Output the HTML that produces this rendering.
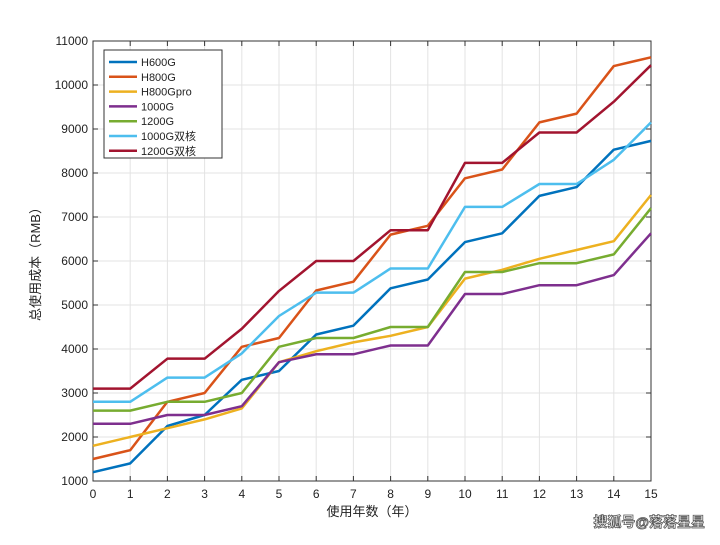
<!DOCTYPE html>
<html><head><meta charset="utf-8"><style>
body{margin:0;background:#fff;}
svg text{font-family:"Liberation Sans","Noto Sans CJK SC",sans-serif;}
</style></head><body>
<svg id="c" width="720" height="540"></svg>
<script>
const years=[0,1,2,3,4,5,6,7,8,9,10,11,12,13,14,15];
const yTicks=[1000,2000,3000,4000,5000,6000,7000,8000,9000,10000,11000];
const seriesNames=["H600G","H800G","H800Gpro","1000G","1200G","1000G双核","1200G双核"];
const colors=["#0072BD","#D95319","#EDB120","#7E2F8E","#77AC30","#4DBEEE","#A2142F"];
const sH600G=[1200,1400,2250,2500,3300,3500,4330,4530,5380,5580,6430,6630,7480,7680,8530,8730];
const sH800G=[1500,1700,2800,3000,4050,4250,5330,5530,6600,6800,7880,8080,9150,9350,10430,10630];
const sH800Gpro=[1800,2000,2200,2400,2650,3700,3950,4150,4300,4500,5600,5800,6050,6250,6450,7500];
const s1000G=[2300,2300,2500,2500,2700,3700,3880,3880,4080,4080,5250,5250,5450,5450,5680,6630];
const s1200G=[2600,2600,2800,2800,3000,4050,4250,4250,4500,4500,5750,5750,5950,5950,6150,7200];
const s1000GD=[2800,2800,3350,3350,3900,4750,5280,5280,5830,5830,7230,7230,7750,7750,8300,9150];
const s1200GD=[3100,3100,3780,3780,4460,5320,6000,6000,6700,6700,8230,8230,8920,8920,9620,10450];
const allSeries=[sH600G,sH800G,sH800Gpro,s1000G,s1200G,s1000GD,s1200GD];
const L=93,R=651,T=41,B=481;
const xs=v=>L+(v-0)/(15-0)*(R-L);
const ys=v=>B-(v-1000)/(11000-1000)*(B-T);
const svg=document.getElementById('c');const NS="http://www.w3.org/2000/svg";
function mk(t,a,p){const e=document.createElementNS(NS,t);for(const k in a)e.setAttribute(k,a[k]);(p||svg).appendChild(e);return e;}
const grid=mk('g',{});


years.forEach(v=>{mk('line',{x1:xs(v),x2:xs(v),y1:T,y2:B,stroke:'#e3e3e3','stroke-width':1},grid);
 const t=mk('text',{x:xs(v),y:B+17,'text-anchor':'middle','font-size':12,fill:'#222'});t.textContent=v;
 
 
 mk('line',{x1:xs(v),x2:xs(v),y1:B,y2:B-5,stroke:'#333'});mk('line',{x1:xs(v),x2:xs(v),y1:T,y2:T+5,stroke:'#333'});});
yTicks.forEach(v=>{mk('line',{x1:L,x2:R,y1:ys(v),y2:ys(v),stroke:'#e3e3e3','stroke-width':1},grid);
 const t=mk('text',{x:L-5,y:ys(v)+4,'text-anchor':'end','font-size':12,fill:'#222'});t.textContent=v;
 
 
 mk('line',{x1:L,x2:L+5,y1:ys(v),y2:ys(v),stroke:'#333'});mk('line',{x1:R,x2:R-5,y1:ys(v),y2:ys(v),stroke:'#333'});});
const ax=mk('rect',{x:L,y:T,width:R-L,height:B-T,fill:'none',stroke:'#333','stroke-width':1});


allSeries.forEach((s,i)=>{const p=mk('polyline',{points:s.map((v,j)=>xs(years[j])+','+ys(v)).join(' '),fill:'none',stroke:colors[i],'stroke-width':2.5,'stroke-linejoin':'round'});
 
 });
const xt=mk('text',{x:(L+R)/2,y:516,'text-anchor':'middle','font-size':13,fill:'#222'});xt.textContent='使用年数（年）';


const yt=mk('text',{x:0,y:0,'text-anchor':'middle','font-size':13,fill:'#222',transform:'translate(40,'+((T+B)/2)+') rotate(-90)'});yt.textContent='总使用成本（RMB）';


const lg=mk('g',{});


mk('rect',{x:104,y:50,width:118,height:108,fill:'#fff',stroke:'#333','stroke-width':1},lg);
seriesNames.forEach((n,i)=>{const y=62+i*14.8;
 mk('line',{x1:109,x2:137,y1:y,y2:y,stroke:colors[i],'stroke-width':2.5},lg);
 const t=mk('text',{x:141,y:y+4,'font-size':11,fill:'#222'},lg);t.textContent=n;
 
 });
const wm=mk('text',{x:705,y:527,'text-anchor':'end','font-size':14,'font-weight':'bold',fill:'#fff',stroke:'#555','stroke-width':0.8});wm.textContent='搜狐号@落落星星';


</script>
</body></html>
